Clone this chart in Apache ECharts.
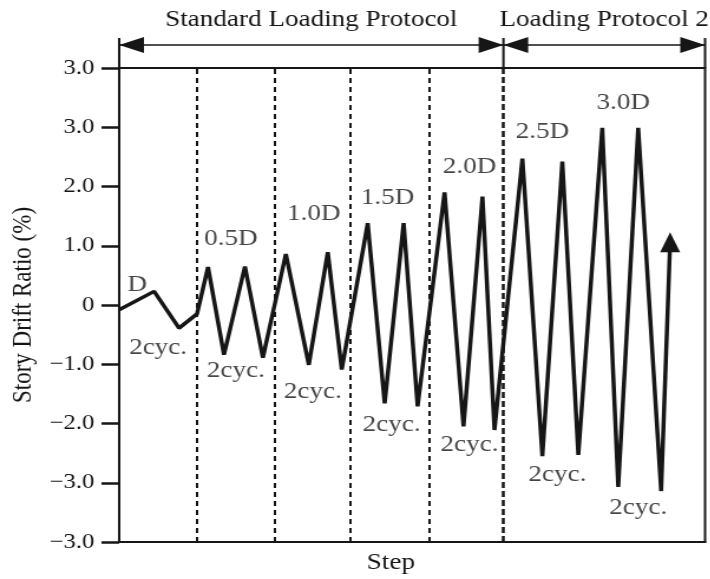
<!DOCTYPE html>
<html>
<head>
<meta charset="utf-8">
<script src="https://cdn.jsdelivr.net/npm/echarts@6/dist/echarts.min.js"></script>
<style>
  html, body { margin: 0; padding: 0; background: #fff; overflow: hidden; }
  /* the figure is laid out narrow and widened horizontally as a whole */
  #chart { width: 602px; height: 579px; transform: scaleX(1.18); transform-origin: 0 0; }
</style>
</head>
<body>
<div id="chart"></div>
<script>
// Loading history: step position and story drift ratio (%)
const stepX = [0, 3.5, 6.0, 7.8, 8.9, 10.5, 12.6, 14.4, 16.7, 19.0, 20.9, 22.3, 24.9, 26.6, 28.5,
  29.9, 32.6, 34.5, 36.4, 37.6, 40.4, 42.4, 44.4, 46.0, 48.4, 50.0, 52.0, 54.3, 55.2];
const driftRatio = [-0.08, 0.23, -0.39, -0.15, 0.64, -0.84, 0.65, -0.89, 0.86, -1.01, 0.89, -1.09, 1.38, -1.66, 1.38,
  -1.71, 1.90, -2.05, 1.83, -2.11, 2.47, -2.55, 2.42, -2.53, 2.99, -3.07, 2.99, -3.14, 1.06];

// Y axis tick labels, from -4 to 4 in steps of 1
const yTickLabels = ['\u22123.0', '\u22123.0', '\u22122.0', '\u22121.0', '0', '1.0', '2.0', '3.0', '3.0'];

// Boundaries between amplitude groups (step positions)
const groupBounds = [7.8, 15.6, 23.2, 31.1];
const protocolBound = 38.5;
const stepMax = 58.7;

// Amplitude annotations
const ampText = ['D', '0.5D', '1.0D', '1.5D', '2.0D', '2.5D', '3.0D'];
const ampX = [1.8, 11.2, 19.5, 26.9, 35.1, 42.4, 50.5];
const ampY = [0.34, 1.11, 1.53, 1.81, 2.33, 2.92, 3.41];

// Cycle-count annotations
const cycText = ['2cyc.', '2cyc.', '2cyc.', '2cyc.', '2cyc.', '2cyc.', '2cyc.'];
const cycX = [3.9, 11.7, 19.4, 27.3, 35.1, 43.9, 52.0];
const cycY = [-0.72, -1.12, -1.46, -2.03, -2.37, -2.87, -3.42];

const protocolNames = ['Standard Loading Protocol', 'Loading Protocol 2'];

const SERIF = '"Liberation Serif", "Times New Roman", serif';
const INK = '#161616';

const lineData = stepX.map((x, i) => {
  const last = i === stepX.length - 1;
  return {
    value: [x, driftRatio[i]],
    symbol: last ? 'triangle' : 'none',
    symbolSize: last ? [17, 20] : 0
  };
});

const noteData = ampText.map((t, i) => [ampX[i], ampY[i], t])
  .concat(cycText.map((t, i) => [cycX[i], cycY[i], t]));

const chart = echarts.init(document.getElementById('chart'));

chart.setOption({
  animation: false,
  backgroundColor: '#fff',
  grid: {
    left: 100, right: 4.5, top: 68, bottom: 34,
    show: true, borderColor: INK, borderWidth: 2, backgroundColor: 'transparent'
  },
  xAxis: {
    type: 'value', min: 0, max: stepMax,
    name: 'Step', nameLocation: 'middle', nameGap: 9,
    nameTextStyle: { fontFamily: SERIF, fontSize: 23, color: INK, padding: [0, 36, 0, 0], verticalAlign: 'top' },
    axisLine: { show: true, onZero: false, lineStyle: { color: INK, width: 2 } },
    axisTick: { show: false }, axisLabel: { show: false }, splitLine: { show: false }
  },
  yAxis: {
    type: 'value', min: -4, max: 4, interval: 1,
    name: 'Story Drift Ratio (%)', nameLocation: 'middle', nameGap: 64,
    nameTextStyle: { fontFamily: SERIF, fontSize: 23, color: INK },
    axisLine: { show: true, onZero: false, lineStyle: { color: INK, width: 2 } },
    axisTick: { show: true, inside: false, length: 15, lineStyle: { color: INK, width: 2.5 } },
    axisLabel: {
      margin: 21, fontFamily: SERIF, fontSize: 21, color: INK,
      formatter: v => yTickLabels[Math.round(v) + 4]
    },
    splitLine: { show: false }
  },
  series: [
    {
      type: 'line',
      data: lineData,
      showSymbol: true,
      itemStyle: { color: INK },
      lineStyle: { color: INK, width: 3.5 },
      markLine: {
        silent: true, symbol: 'none', label: { show: false },
        lineStyle: { color: INK, type: [5, 4], width: 2 },
        data: groupBounds.map(b => ({ xAxis: b }))
          .concat([{ xAxis: protocolBound, lineStyle: { width: 2.5, type: [6, 3] } }])
      },
      z: 3
    },
    {
      type: 'scatter',
      data: noteData,
      symbolSize: 0,
      silent: true,
      label: {
        show: true, position: 'inside',
        fontFamily: SERIF, fontSize: 23, color: INK,
        formatter: p => p.value[2]
      },
      z: 4
    }
  ]
});

// Protocol brackets above the plot, placed from the axis scale
const xs = v => chart.convertToPixel({ xAxisIndex: 0 }, v);
const yTop = chart.convertToPixel({ yAxisIndex: 0 }, 4);
const x0 = xs(0), xMid = xs(protocolBound), x1 = xs(stepMax);
const barTop = 38, arrowY = 45, headL = 21, headH = 8;

function vbar(x) {
  return { type: 'line', shape: { x1: x, y1: barTop, x2: x, y2: yTop }, style: { stroke: INK, lineWidth: 2 } };
}
function head(tipX, dir) {
  return {
    type: 'polygon',
    shape: { points: [[tipX, arrowY], [tipX + dir * headL, arrowY - headH], [tipX + dir * headL, arrowY + headH]] },
    style: { fill: INK }
  };
}
function title(text, cx) {
  return {
    type: 'text', x: cx, y: 20,
    style: { text, fill: INK, font: '23px ' + SERIF, textAlign: 'center', textVerticalAlign: 'middle' }
  };
}

chart.setOption({
  graphic: [
    vbar(x0), vbar(xMid), vbar(x1),
    { type: 'line', shape: { x1: x0, y1: arrowY, x2: x1, y2: arrowY }, style: { stroke: INK, lineWidth: 1.5 } },
    head(x0, 1), head(xMid, -1), head(xMid, 1), head(x1, -1),
    title(protocolNames[0], (x0 + xMid) / 2),
    title(protocolNames[1], (xMid + x1) / 2)
  ]
});
</script>
</body>
</html>
